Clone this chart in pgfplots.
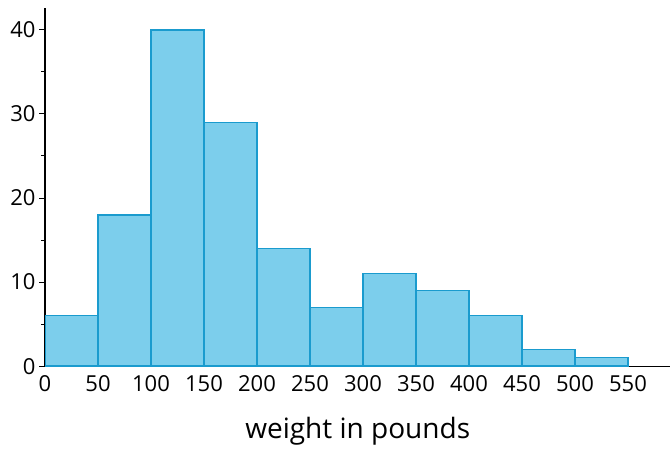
\documentclass[border=0pt]{standalone}
\usepackage{pgfplots}
\pgfplotsset{compat=1.18}
\usepackage{fontspec}
\setmainfont{Open Sans}
\definecolor{barfill}{HTML}{7CCEEC}
\definecolor{baredge}{HTML}{1A9BCE}
\begin{document}
\begin{tikzpicture}
  \begin{axis}[
      scale only axis,
      width=625pt, height=358pt,
      xmin=0, xmax=590, ymin=0, ymax=42.6,
      axis lines*=left,
      axis line style={line width=1.3pt},
      xtick={0,50,...,550},
      ytick={0,10,20,30,40},
      minor y tick num=1,
      xtick style={draw=none},
      ytick style={line width=1pt, black},
      tick align=outside,
      major tick length=6pt,
      minor tick length=4pt,
      tick label style={font=\fontsize{22}{26}\selectfont},
      /pgf/number format/assume math mode=true,
      xlabel={weight in pounds},
      xlabel style={font=\fontsize{28}{33}\selectfont, yshift=-18pt},
    ]
    \addplot[ybar interval, fill=barfill, draw=baredge, line width=1.4pt]
      coordinates {(0,6) (50,18) (100,40) (150,29) (200,14) (250,7)
                   (300,11) (350,9) (400,6) (450,2) (500,1) (550,1)};
  \end{axis}
  \path ([yshift=8pt]current axis.north west) ([xshift=-45pt]current axis.south west);
\end{tikzpicture}
\end{document}
